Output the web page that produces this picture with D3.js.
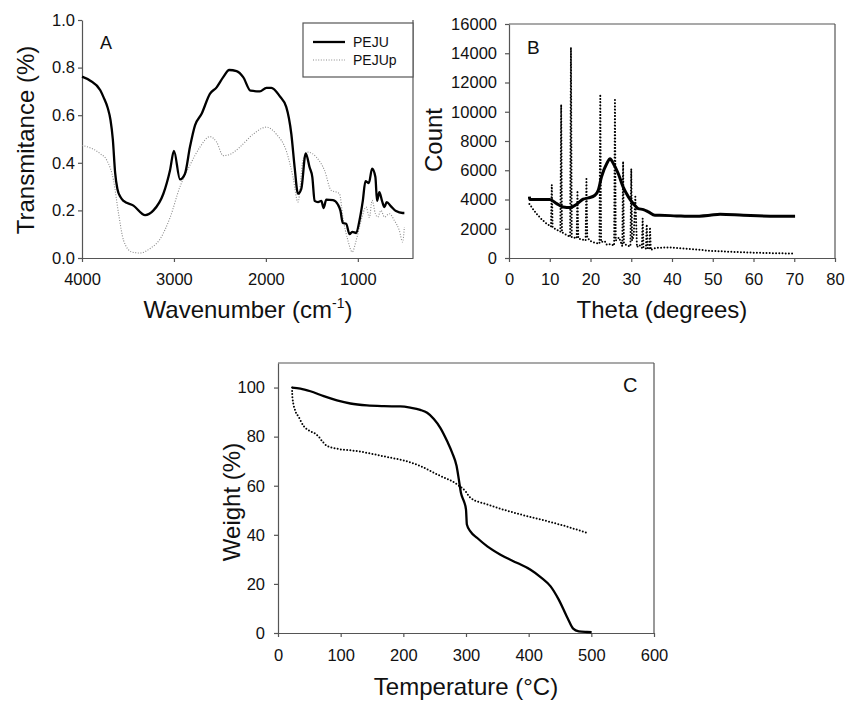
<!DOCTYPE html>
<head>
<meta charset="utf-8">
<script src="https://d3js.org/d3.v7.min.js"></script>
<style>
body { margin: 0; background: white; }
svg { display: block; background: white; }
text { font-family: "Liberation Sans", Arial, sans-serif; fill: #111; }
.axis path, .axis line { stroke: #555; stroke-width: 1.2; }
.axis text { font-size: 16.5px; fill: #111; }
</style>
</head>
<body>
<svg id="chart" width="847" height="703"></svg>
<script>
// panel A - FTIR
var pejuA = [[4000,0.762],[3910,0.745],[3801,0.705],[3765,0.675],[3720,0.63],[3690,0.58],[3665,0.50],[3640,0.36],
  [3615,0.29],[3580,0.255],[3548,0.24],[3440,0.22],[3313,0.18],
  [3223,0.20],[3115,0.27],[3042,0.37],[3000,0.45],[2934,0.33],[2880,0.354],[2826,0.466],[2771,0.557],[2699,0.606],
  [2609,0.69],[2536,0.717],[2464,0.76],[2399,0.79],[2319,0.785],[2247,0.76],[2167,0.703],[2066,0.70],[1994,0.715],
  [1940,0.715],[1850,0.68],[1778,0.634],[1723,0.52],[1687,0.38],[1651,0.27],[1615,0.29],[1567,0.44],[1524,0.38],
  [1495,0.34],[1470,0.24],[1433,0.235],[1397,0.24],[1372,0.21],[1343,0.245],[1270,0.243],[1217,0.225],[1190,0.2],
  [1163,0.147],[1127,0.144],[1090,0.10],[1061,0.11],[1018,0.105],[982,0.158],[946,0.24],[917,0.323],[880,0.315],
  [845,0.375],[809,0.34],[791,0.24],[766,0.277],[737,0.24],[711,0.214],[686,0.235],[639,0.217],[585,0.197],
  [513,0.189],[494,0.189]];
var pejupA = [[4000,0.473],[3801,0.438],[3729,0.41],[3657,0.326],[3602,0.186],[3548,0.074],[3458,0.025],[3367,0.021],
  [3259,0.04],[3151,0.08],[3042,0.17],[2934,0.30],[2826,0.39],[2717,0.466],[2609,0.51],[2536,0.487],[2464,0.43],
  [2392,0.435],[2283,0.466],[2139,0.52],[1994,0.55],[1886,0.52],[1778,0.45],[1705,0.34],[1651,0.235],[1597,0.41],
  [1542,0.445],[1452,0.424],[1362,0.368],[1290,0.284],[1235,0.277],[1199,0.27],[1163,0.172],[1108,0.074],[1061,0.025],
  [1018,0.074],[964,0.158],[910,0.214],[874,0.17],[845,0.242],[809,0.186],[784,0.172],[748,0.2],[711,0.172],
  [657,0.186],[603,0.158],[549,0.116],[513,0.067],[494,0.13]];
var ticksAx = [4000, 3000, 2000, 1000];
var ticksAy = [0, 0.2, 0.4, 0.6, 0.8, 1.0];
var legendNames = ["PEJU", "PEJUp"];

// panel B - XRD
var solidB = [[5,4200],[5.1,4000],[7,4000],[10,4000],[11.7,3720],[13.3,3490],[15,3450],[16.6,3680],[18.2,4020],
  [19.5,4110],[21.1,4290],[21.9,4630],[22.7,5550],[24,6460],[24.8,6780],[25.6,6460],[26.8,5780],[28,4860],
  [29.3,4180],[30.5,3720],[31.7,3380],[33,3310],[34.2,3150],[35.8,2920],[37,2920],[41.1,2880],[45.2,2850],
  [49.3,2920],[51.8,2990],[57.5,2920],[65.7,2850],[70.2,2850]];
var dottedB = [[5,3700],[6,3300],[7,2950],[8,2650],[9,2400],[10,2200],[10.3,2150],[10.5,5000],[10.7,2100],
  [11.5,1950],[12.6,1800],[12.8,10500],[13.0,1750],[14,1600],[15,1450],[15.2,14400],[15.4,1420],[16.6,1350],
  [16.8,4600],[17.0,1330],[18,1250],[18.8,1200],[19.0,5400],[19.2,1400],[20,1150],[21,1050],[22.2,980],
  [22.4,11200],[22.6,1100],[23.5,1150],[24,900],[25,950],[25.8,850],[26,10800],[26.2,1200],[27,1400],
  [27.8,800],[28,6600],[28.2,1000],[29,850],[29.8,800],[30,6100],[30.2,1200],[30.6,1500],[31,4200],[31.4,750],
  [32,900],[32.6,700],[32.8,2700],[33,700],[33.6,650],[33.8,2300],[34,650],[34.4,600],[34.6,2100],[34.8,550],
  [36,700],[40,720],[45,600],[50,480],[55,420],[60,365],[65,330],[70,300]];
var ticksBx = [0, 10, 20, 30, 40, 50, 60, 70, 80];
var ticksBy = [0, 2000, 4000, 6000, 8000, 10000, 12000, 14000, 16000];

// panel C - TGA
var solidC = [[22.4,100],[35.7,99.6],[51.7,98.5],[73,96.5],[94,94.8],[115.5,93.5],[142,92.7],[169,92.4],
  [195,92.3],[211,91.8],[227,90.9],[238,89.7],[248.7,87.2],[259,83.6],[270,78.1],[278,73.4],[285,68],
  [288.6,62.5],[292,57],[296.6,53.7],[300,50.3],[301.4,44.2],[307,41.4],[318,38.7],[334,35.3],[355,31.9],
  [382,28.5],[403,25.8],[419,22.8],[435,19],[448,13.6],[462,6.1],[471,1.8],[480,0.7],[493,0.4],[500.5,0.3]];
var dottedC = [[22.4,100],[23,96],[27.6,90.5],[33,88],[40.9,84.3],[51.7,82.2],[59.6,81.2],[65,80],[70.3,78.2],
  [78.3,76.2],[94,75.1],[126,74.1],[174,71.7],[200.6,70.3],[227,68],[254,64.6],[286,60.5],[299,57.8],
  [307,55.1],[334,52.4],[387,48.3],[435,45.2],[467,42.9],[496,40.5]];
var ticksCx = [0, 100, 200, 300, 400, 500, 600];
var ticksCy = [0, 20, 40, 60, 80, 100];

var svg = d3.select("#chart");

function panel(o) {
  var x = d3.scaleLinear().domain(o.xDomain).range([o.left, o.right]);
  var y = d3.scaleLinear().domain(o.yDomain).range([o.bottom, o.top]);
  var g = svg.append("g");

  g.append("g").attr("class", "axis")
    .attr("transform", "translate(0," + o.bottom + ")")
    .call(d3.axisBottom(x).tickValues(o.xTicks).tickSize(4).tickSizeOuter(0).tickPadding(o.xPad).tickFormat(d3.format("d")));
  g.append("g").attr("class", "axis")
    .attr("transform", "translate(" + o.left + ",0)")
    .call(d3.axisLeft(y).tickValues(o.yTicks).tickSize(4).tickSizeOuter(0).tickPadding(o.yPad).tickFormat(o.yFmt));

  if (o.top_line) g.append("line").attr("x1", o.left).attr("x2", o.right).attr("y1", o.top).attr("y2", o.top)
    .attr("stroke", "#555").attr("stroke-width", 1.2);
  g.append("line").attr("x1", o.right).attr("x2", o.right).attr("y1", o.top).attr("y2", o.bottom)
    .attr("stroke", "#555").attr("stroke-width", 1.2);

  var line = d3.line().curve(d3.curveMonotoneX)
    .x(function(d) { return x(d[0]); }).y(function(d) { return y(d[1]); });
  o.series.forEach(function(s) {
    g.append("path").datum(s.data).attr("d", s.sharp ? line.curve(d3.curveLinear)(s.data) : line(s.data))
      .attr("fill", "none").attr("stroke", s.color).attr("stroke-width", s.width)
      .attr("stroke-dasharray", s.dash || null).attr("stroke-linecap", s.cap || "butt")
      .attr("stroke-linejoin", "round");
    line.curve(d3.curveMonotoneX);
  });

  g.append("text").attr("x", o.tag[0]).attr("y", o.tag[1]).attr("font-size", o.tag[2]).text(o.tag[3]);

  g.append("text").attr("transform", "translate(" + o.yTitle[0] + "," + o.yTitle[1] + ") rotate(-90)")
    .attr("text-anchor", "middle").attr("font-size", 24).text(o.yTitle[2]);
  var xt = g.append("text").attr("x", o.xTitle[0]).attr("y", o.xTitle[1])
    .attr("text-anchor", "middle").attr("font-size", 24);
  xt.text(o.xTitle[2]);
  if (o.xTitle[3]) {
    xt.append("tspan").attr("font-size", 14).attr("dy", -10).text(o.xTitle[3]);
    xt.append("tspan").attr("dy", 10).text(")");
  }
  return {x: x, y: y, g: g};
}

var A = panel({
  xDomain: [4000, 400], yDomain: [0, 1], left: 82, right: 413, top: 20, bottom: 258,
  xTicks: ticksAx, yTicks: ticksAy, xPad: 11, yPad: 3, yFmt: d3.format(".1f"), top_line: false,
  series: [
    {data: pejupA, color: "#8a8a8a", width: 1.1, dash: "1,1.6"},
    {data: pejuA, color: "#000", width: 2.3}
  ],
  tag: [100, 49, 18, "A"],
  yTitle: [34, 140, "Transmitance (%)"],
  xTitle: [248, 318, "Wavenumber (cm", "-1"]
});

// legend for A
var lg = A.g.append("g");
lg.append("rect").attr("x", 303).attr("y", 23).attr("width", 110).attr("height", 54)
  .attr("fill", "white").attr("stroke", "#555").attr("stroke-width", 1.2);
lg.append("line").attr("x1", 313).attr("x2", 345).attr("y1", 42).attr("y2", 42)
  .attr("stroke", "#000").attr("stroke-width", 2.3);
lg.append("line").attr("x1", 313).attr("x2", 345).attr("y1", 60).attr("y2", 60)
  .attr("stroke", "#8a8a8a").attr("stroke-width", 1.1).attr("stroke-dasharray", "1,1.6");
legendNames.forEach(function(n, i) {
  lg.append("text").attr("x", 353).attr("y", 47 + i * 18).attr("font-size", 14).text(n);
});

panel({
  xDomain: [0, 80], yDomain: [0, 16000], left: 509, right: 835, top: 24, bottom: 258,
  xTicks: ticksBx, yTicks: ticksBy, xPad: 11, yPad: 8, yFmt: d3.format("d"), top_line: true,
  series: [
    {data: dottedB, color: "#000", width: 2, dash: "0,3.2", cap: "round", sharp: true},
    {data: solidB, color: "#000", width: 3}
  ],
  tag: [527, 54, 19, "B"],
  yTitle: [442, 140, "Count"],
  xTitle: [662, 318, "Theta (degrees)"]
});

panel({
  xDomain: [0, 600], yDomain: [0, 110], left: 278, right: 654, top: 363, bottom: 633,
  xTicks: ticksCx, yTicks: ticksCy, xPad: 12, yPad: 9, yFmt: d3.format("d"), top_line: true,
  series: [
    {data: dottedC, color: "#000", width: 2, dash: "0,3.2", cap: "round"},
    {data: solidC, color: "#000", width: 2.3}
  ],
  tag: [623, 392, 20, "C"],
  yTitle: [240, 502, "Weight (%)"],
  xTitle: [466, 695, "Temperature (°C)"]
});
</script>
</body>
</html>
